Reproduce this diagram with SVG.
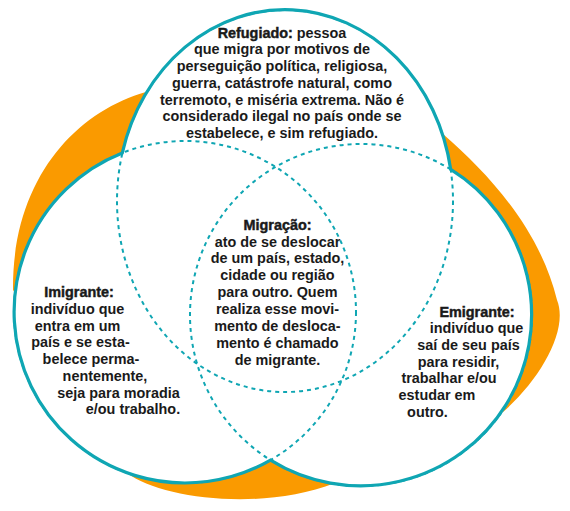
<svg xmlns="http://www.w3.org/2000/svg" width="570" height="511" viewBox="0 0 570 511">
<style>
.bg{fill:#ffffff}
.orange{fill:#FA9A00}
.fillw{fill:#ffffff;stroke:none}
.dash{fill:none;stroke:#0FA6B3;stroke-width:2;stroke-dasharray:4 4}
.solid{fill:none;stroke:#0FA6B3;stroke-width:3.2;stroke-linejoin:miter}
.t{font-family:"Liberation Sans",Arial,sans-serif;font-size:14.4px;font-weight:700;fill:#1a1a1a;text-anchor:middle}
.h{stroke:#1a1a1a;stroke-width:0.45}
</style>
<defs>
<ellipse id="shapeTop" cx="285" cy="201" rx="168" ry="191"/>
<circle id="shapeLeft" cx="185" cy="312" r="171"/>
<circle id="shapeRight" cx="361" cy="315" r="171"/>
</defs>
<rect class="bg" x="0" y="0" width="570" height="511"/>
<g id="backdrop">
<path class="orange" d="M160,88 L146,92 C75,112 12,180 13,290 L80,380 L127,473 C160,498 260,512 335,483 L420,430 L503,412 C540,380 569,330 557,300 C540,230 490,175 443,134 L380,120 L300,100 Z"/>
</g>
<g id="fills">
<use href="#shapeTop" class="fillw"/>
<use href="#shapeLeft" class="fillw"/>
<use href="#shapeRight" class="fillw"/>
</g>
<g id="node-refugiado">
<use href="#shapeTop" class="dash"/>
<text class="t" x="282" y="37.5"><tspan class="h">Refugiado:</tspan> pessoa</text>
<text class="t" x="282" y="54.2">que migra por motivos de</text>
<text class="t" x="282" y="71">perseguição política, religiosa,</text>
<text class="t" x="282" y="87.7">guerra, catástrofe natural, como</text>
<text class="t" x="282" y="104.5">terremoto, e miséria extrema. Não é</text>
<text class="t" x="282" y="121.2">considerado ilegal no país onde se</text>
<text class="t" x="282" y="138">estabelece, e sim refugiado.</text>
</g>
<g id="node-imigrante">
<use href="#shapeLeft" class="dash"/>
<text class="t h" x="79" y="297">Imigrante:</text>
<text class="t" x="77.5" y="313.8">indivíduo que</text>
<text class="t" x="77.5" y="330.6">entra em um</text>
<text class="t" x="80.5" y="347.3">país e se esta-</text>
<text class="t" x="91" y="364">belece perma-</text>
<text class="t" x="105" y="380.8">nentemente,</text>
<text class="t" x="118.5" y="397.6">seja para moradia</text>
<text class="t" x="133" y="414.3">e/ou trabalho.</text>
</g>
<g id="node-emigrante">
<use href="#shapeRight" class="dash"/>
<text class="t h" x="477" y="316.7">Emigrante:</text>
<text class="t" x="476.5" y="333.3">indivíduo que</text>
<text class="t" x="468.5" y="350">saí de seu país</text>
<text class="t" x="458.5" y="366.7">para residir,</text>
<text class="t" x="449" y="383.3">trabalhar e/ou</text>
<text class="t" x="437" y="400">estudar em</text>
<text class="t" x="427.5" y="416.7">outro.</text>
</g>
<g id="node-migracao">
<text class="t h" x="277.5" y="229.5">Migração:</text>
<text class="t" x="277.5" y="246.5">ato de se deslocar</text>
<text class="t" x="277.5" y="263.4">de um país, estado,</text>
<text class="t" x="277.5" y="280.4">cidade ou região</text>
<text class="t" x="277.5" y="297.3">para outro. Quem</text>
<text class="t" x="277.5" y="314.3">realiza esse movi-</text>
<text class="t" x="277.5" y="331.3">mento de desloca-</text>
<text class="t" x="277.5" y="348.2">mento é chamado</text>
<text class="t" x="277.5" y="365.2">de migrante.</text>
</g>
<g id="connectors">
<path class="solid" d="M122.3,152.9 A168,191 0 0 1 450.7,169.4 A171,171 0 1 1 270.5,460.1 A171,171 0 1 1 122.3,152.9 Z"/>
</g>
</svg>
